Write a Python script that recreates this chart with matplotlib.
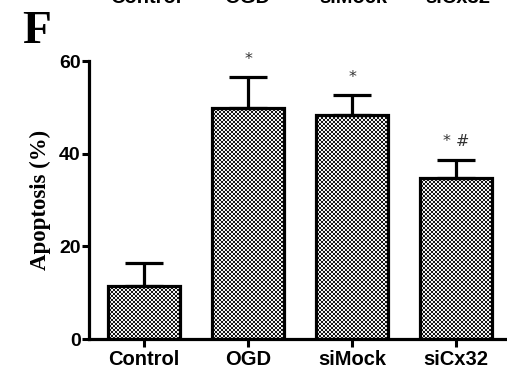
import numpy as np
import matplotlib.pyplot as plt

groups = ["Control", "OGD", "siMock", "siCx32"]
apoptosis = [11.4, 49.8, 48.3, 34.7]
sem = [5.0, 6.7, 4.4, 4.0]
marks = ["", "*", "*", "* #"]
yticks = [0, 20, 40, 60]

fig = plt.figure(figsize=(5.07, 3.70), dpi=100)
ax = fig.add_axes([89/507, 31/370, 418/507, 278/370])

x = np.arange(len(groups))
bars = ax.bar(x, apoptosis, width=0.69, facecolor="none", edgecolor="black",
              linewidth=2.3, zorder=3)

# checker texture inside the bars
ny, nx = 139, 209
checker = (np.indices((ny, nx)).sum(axis=0) % 2).astype(float)
for b in bars:
    im = ax.imshow(checker, cmap="gray", vmin=-0.1, vmax=1.05,
                   extent=[0, 1, 0, 1], transform=ax.transAxes,
                   interpolation="nearest", aspect="auto", zorder=2)
    im.set_clip_path(b)

ax.errorbar(x, apoptosis, yerr=[np.zeros(len(sem)), sem], fmt="none",
            ecolor="black", elinewidth=2.3, capsize=13.5, capthick=2.3,
            zorder=2.5)

for xi, m, s, t in zip(x, apoptosis, sem, marks):
    if t:
        ax.text(xi, m + s + 2.2, t, ha="center", va="bottom", fontsize=11.5,
                color="#333333", family="DejaVu Sans")

ax.set_xlim(-0.53, 3.49)
ax.set_ylim(0, 60)
ax.set_yticks(yticks)
ax.set_xticks(x)
ax.set_xticklabels(groups)
for sp in ["top", "right"]:
    ax.spines[sp].set_visible(False)
for sp in ["left", "bottom"]:
    ax.spines[sp].set_linewidth(2.3)
ax.tick_params(axis="x", length=6, width=2.2, pad=2)
ax.tick_params(axis="y", length=5, width=2.2, pad=1)
for lab in ax.get_xticklabels():
    lab.set_family("Liberation Sans")
    lab.set_fontweight("bold")
    lab.set_fontsize(14.5)
for lab in ax.get_yticklabels():
    lab.set_family("Liberation Sans")
    lab.set_fontweight("bold")
    lab.set_fontsize(14)

ax.set_ylabel("Apoptosis (%)", family="Liberation Serif", fontweight="bold",
              fontsize=16.5, labelpad=6)

fig.text(22/507, 1 - 43/370, "F", family="Liberation Serif", fontweight="bold",
         fontsize=34, va="baseline")

# cut-off labels from the panel above
for xc, name in zip([146, 247, 353, 458], groups):
    fig.text(xc/507, 1 - 3/370, name, family="Liberation Sans",
             fontweight="bold", fontsize=14.5, ha="center", va="baseline")

fig.savefig("out.png", dpi=100)
